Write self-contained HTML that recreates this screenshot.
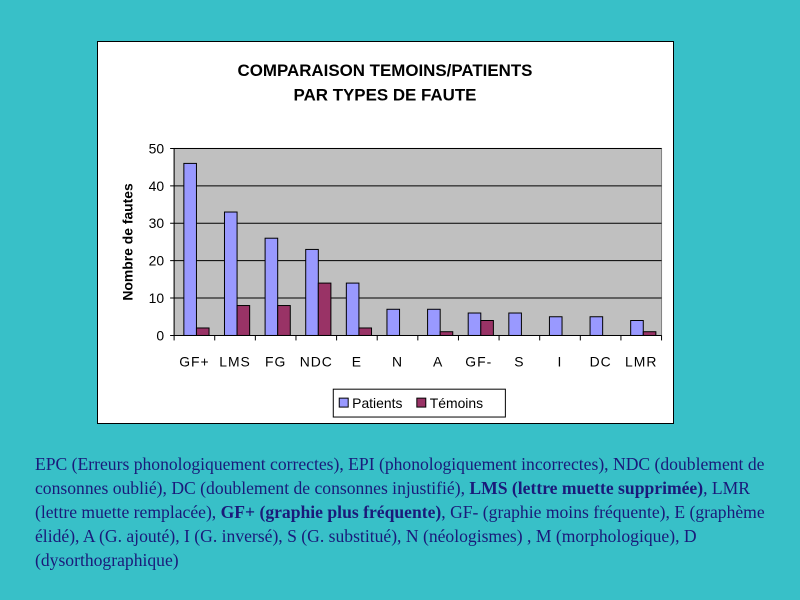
<!DOCTYPE html>
<html><head><meta charset="utf-8"><style>
body{margin:0;width:800px;height:600px;background:#38c0c8;position:relative;overflow:hidden;font-family:"Liberation Sans",sans-serif}
#chart{position:absolute;left:97px;top:41px;width:577px;height:383px;background:#fff;border:1px solid #000;box-sizing:border-box}
#note{position:absolute;left:35px;top:452px;width:738px;font-family:"Liberation Serif",serif;font-size:17.6px;line-height:24px;color:#1a1a7a}
</style></head><body>
<svg id="chart" width="577" height="383" viewBox="97 41 577 383" style="left:97px;top:41px">
<text x="385" y="75" text-anchor="middle" font-size="17" font-weight="bold">COMPARAISON TEMOINS/PATIENTS</text>
<text x="385" y="100" text-anchor="middle" font-size="17" font-weight="bold">PAR TYPES DE FAUTE</text>
<g id="g"></g>
<text transform="translate(131,242) rotate(-90)" text-anchor="middle" font-size="14" font-weight="bold">Nombre de fautes</text>
<g>
<rect x="333" y="390" width="173" height="28" fill="#fff" stroke="#000"/>
<rect x="339" y="399" width="9" height="9" fill="#9999ff" stroke="#000"/>
<text x="352" y="409" font-size="14">Patients</text>
<rect x="417" y="399" width="9" height="9" fill="#993366" stroke="#000"/>
<text x="430" y="409" font-size="14">Témoins</text>
</g>
</svg>
<div id="note">EPC (Erreurs phonologiquement correctes), EPI (phonologiquement incorrectes), NDC (doublement de consonnes oublié), DC (doublement de consonnes injustifié), <b>LMS (lettre muette supprimée)</b>, LMR (lettre muette remplacée), <b>GF+ (graphie plus fréquente)</b>, GF- (graphie moins fréquente), E (graphème élidé), A (G. ajouté), I (G. inversé), S (G. substitué), N (néologismes) , M (morphologique), D (dysorthographique)</div>
<script>
const categories=["GF+","LMS","FG","NDC","E","N","A","GF-","S","I","DC","LMR"];
const patients=[46,33,26,23,14,7,7,6,6,5,5,4];
const temoins=[2,8,8,14,2,0,1,4,0,0,0,1];
const yTicks=[0,10,20,30,40,50];
const L=173,R=663,T=148,B=336,maxY=50;
const y=v=>B-(B-T)*v/maxY;
const gw=(R-L)/categories.length;
const x=i=>L+i*gw;
const NS="http://www.w3.org/2000/svg";
const g=document.getElementById("g");
function mk(t,a){const e=document.createElementNS(NS,t);for(const k in a)e.setAttribute(k,a[k]);g.appendChild(e);return e;}
const bg=mk("rect",{x:L,y:T,width:R-L,height:B-T,fill:"#c0c0c0",stroke:"#808080"});


yTicks.forEach(v=>{
  const l=mk("line",{x1:L-4,x2:R,y1:y(v),y2:y(v),stroke:"#000"});
  
  
  const t=mk("text",{x:L-10,y:y(v)+5,"text-anchor":"end","font-size":"14"});
  t.textContent=v;
  
  
});
const bw=gw*0.31;
categories.forEach((c,i)=>{
  const p=mk("rect",{x:x(i)+gw*0.24,y:y(patients[i]),width:bw,height:B-y(patients[i]),fill:"#9999ff",stroke:"#000"});
  
  
  if(temoins[i]>0){
    const q=mk("rect",{x:x(i)+gw*0.24+bw,y:y(temoins[i]),width:bw,height:B-y(temoins[i]),fill:"#993366",stroke:"#000"});
    
    
  }
  const tk=mk("line",{x1:x(i),x2:x(i),y1:B,y2:B+5,stroke:"#000"});
  
  
  const t=mk("text",{x:x(i)+gw/2,y:B+31,"text-anchor":"middle","font-size":"14","letter-spacing":"1"});
  t.textContent=c;
  
  
});
const ax=mk("line",{x1:L,x2:L,y1:T,y2:B,stroke:"#000"});


const bx=mk("line",{x1:L,x2:R,y1:B,y2:B,stroke:"#000"});


const lt=mk("line",{x1:R,x2:R,y1:B,y2:B+5,stroke:"#000"});


</script>
</body></html>
